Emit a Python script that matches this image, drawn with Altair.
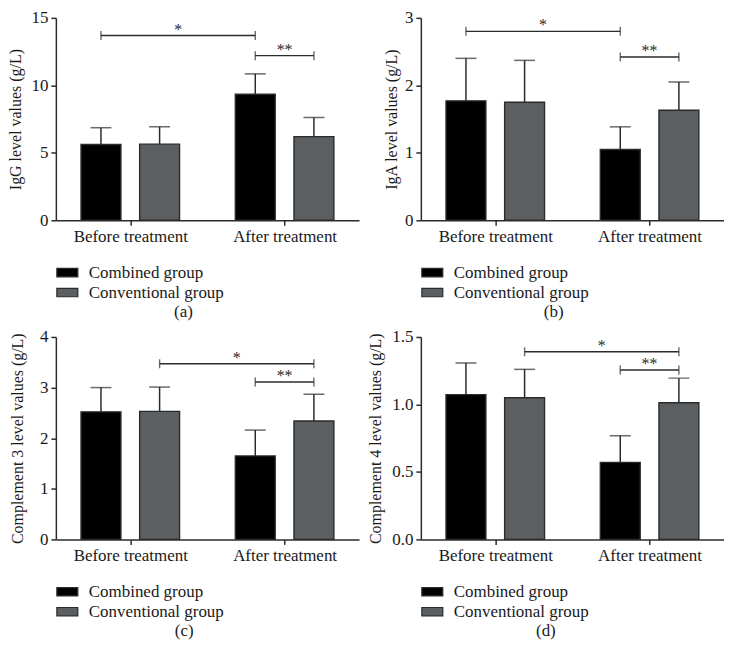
import altair as alt
import pandas as pd

# ---------------- data ----------------
categories = ["Before treatment", "After treatment"]
groups = ["Combined group", "Conventional group"]

panel_labels = ["(a)", "(b)", "(c)", "(d)"]
y_titles = [
    "IgG level values (g/L)",
    "IgA level values (g/L)",
    "Complement 3 level values (g/L)",
    "Complement 4 level values (g/L)",
]
y_max = [15, 3, 4, 1.5]
y_ticks = [[0, 5, 10, 15], [0, 1, 2, 3], [0, 1, 2, 3, 4], [0, 0.5, 1.0, 1.5]]
y_formats = ["d", "d", "d", ".1f"]

# means [Before, After] and SD (upper error) for each group
igg_combined = [5.62, 9.34]
igg_combined_sd = [1.24, 1.51]
igg_conventional = [5.64, 6.20]
igg_conventional_sd = [1.29, 1.41]

iga_combined = [1.77, 1.05]
iga_combined_sd = [0.63, 0.335]
iga_conventional = [1.75, 1.63]
iga_conventional_sd = [0.62, 0.42]

c3_combined = [2.52, 1.65]
c3_combined_sd = [0.48, 0.51]
c3_conventional = [2.53, 2.34]
c3_conventional_sd = [0.48, 0.53]

c4_combined = [1.073, 0.571]
c4_combined_sd = [0.234, 0.197]
c4_conventional = [1.05, 1.012]
c4_conventional_sd = [0.21, 0.183]

# significance brackets: (from category, from group, to category, to group, level, label)
igg_brackets = [(0, 0, 1, 0, 13.69, "*"), (1, 0, 1, 1, 12.2, "**")]
iga_brackets = [(0, 0, 1, 0, 2.80, "*"), (1, 0, 1, 1, 2.42, "**")]
c3_brackets = [(0, 1, 1, 1, 3.47, "*"), (1, 0, 1, 1, 3.11, "**")]
c4_brackets = [(0, 1, 1, 1, 1.39, "*"), (1, 0, 1, 1, 1.255, "**")]

panels_data = [
    (igg_combined, igg_combined_sd, igg_conventional, igg_conventional_sd, igg_brackets),
    (iga_combined, iga_combined_sd, iga_conventional, iga_conventional_sd, iga_brackets),
    (c3_combined, c3_combined_sd, c3_conventional, c3_conventional_sd, c3_brackets),
    (c4_combined, c4_combined_sd, c4_conventional, c4_conventional_sd, c4_brackets),
]

title_pads = [7, 5, 14, 8]

# ---------------- style ----------------
FONT = "Liberation Serif"
INK = "#1a1a1a"
LINE = "#2b2b2b"
COLORS = ["#000000", "#5c5f62"]
OFFSET = 0.19
PW, PH = 304, 203

pos_expr = "datum.cat_idx + (datum.grp_idx - 0.5) * %f" % (2 * OFFSET)
label_expr = "datum.value == 0 ? '%s' : '%s'" % (categories[0], categories[1])


def make_panel(i):
    comb, comb_sd, conv, conv_sd, brackets = panels_data[i]
    rows = []
    for ci, cat in enumerate(categories):
        for gi, (g, means, sds) in enumerate(
            [(groups[0], comb, comb_sd), (groups[1], conv, conv_sd)]
        ):
            rows.append({
                "category": cat, "cat_idx": ci, "group": g, "grp_idx": gi,
                "mean": means[ci], "sd": sds[ci],
            })
    df = pd.DataFrame(rows)

    br = pd.DataFrame(
        [{"fc": b[0], "fg": b[1], "tc": b[2], "tg": b[3], "level": b[4], "label": b[5]}
         for b in brackets]
    )

    xscale = alt.Scale(domain=[-0.45, 1.45], nice=False, zero=False)
    yscale = alt.Scale(domain=[0, y_max[i]], nice=False)
    xaxis = alt.Axis(
        values=[0, 1], labelExpr=label_expr, title=None, grid=False,
        tickSize=5, labelPadding=3, labelFontSize=17,
    )
    yaxis = alt.Axis(
        values=y_ticks[i], format=y_formats[i], title=y_titles[i], grid=False,
        tickSize=5, labelPadding=3, labelFontSize=17, titlePadding=title_pads[i],
    )

    base = alt.Chart(df).transform_calculate(pos=pos_expr).transform_calculate(
        top="datum.mean + datum.sd"
    )
    X = alt.X("pos:Q", scale=xscale, axis=xaxis)

    bars = base.mark_bar(orient="vertical", size=40, stroke=LINE, strokeWidth=1.4).encode(
        x=X,
        y=alt.Y("mean:Q", scale=yscale, axis=yaxis),
        color=alt.Color(
            "group:N",
            scale=alt.Scale(domain=groups, range=COLORS),
            legend=alt.Legend(
                orient="none", legendX=0, legendY=PH + 41, title=None,
                symbolType="M-1,-0.4H1V0.4H-1Z", symbolSize=441,
                symbolStrokeColor=LINE, symbolStrokeWidth=1.2,
                labelFont=FONT, labelFontSize=17, labelColor=INK,
                labelOffset=10, rowPadding=0, padding=0, labelLimit=300,
            ),
        ),
    )
    err = base.mark_rule(color=LINE, strokeWidth=1.5).encode(
        x=X, y=alt.Y("mean:Q", scale=yscale, axis=yaxis), y2="top:Q"
    )
    cap = base.mark_tick(orient="horizontal", size=21, thickness=1.5, color=LINE).encode(
        x=X, y=alt.Y("top:Q", scale=yscale, axis=yaxis)
    )

    bbase = alt.Chart(br).transform_calculate(
        x1="datum.fc + (datum.fg - 0.5) * %f" % (2 * OFFSET),
        x2="datum.tc + (datum.tg - 0.5) * %f" % (2 * OFFSET),
    ).transform_calculate(xm="(datum.x1 + datum.x2) / 2")
    hline = bbase.mark_rule(color=LINE, strokeWidth=1.4).encode(
        x=alt.X("x1:Q", scale=xscale, axis=xaxis), x2="x2:Q",
        y=alt.Y("level:Q", scale=yscale, axis=yaxis),
    )
    ends = bbase.transform_fold(["x1", "x2"], as_=["end", "xe"]).mark_tick(
        orient="vertical", size=9, thickness=1.4, color=LINE
    ).encode(
        x=alt.X("xe:Q", scale=xscale, axis=xaxis),
        y=alt.Y("level:Q", scale=yscale, axis=yaxis),
    )
    stars = bbase.mark_text(
        font=FONT, fontSize=16, color="#2a2a2a", baseline="alphabetic", dy=-1
    ).encode(
        x=alt.X("xm:Q", scale=xscale, axis=xaxis),
        y=alt.Y("level:Q", scale=yscale, axis=yaxis),
        text="label:N",
    )

    return alt.layer(bars, err, cap, hline, ends, stars).properties(
        width=PW, height=PH,
        title=alt.TitleParams(
            panel_labels[i], orient="bottom", anchor="middle", frame="bounds",
            font=FONT, fontSize=17, fontWeight="normal", color=INK, offset=3,
        ),
    )


panels = [make_panel(i) for i in range(4)]

chart = alt.concat(*panels, columns=2, spacing=alt.RowColnumber(row=8, column=8)).resolve_scale(
    y="independent", color="independent"
).resolve_legend(color="independent").configure_view(stroke=None).configure_axis(
    labelFont=FONT, titleFont=FONT, labelColor=INK, titleColor=INK,
    titleFontSize=16, titleFontWeight="normal", domainColor=LINE, tickColor=LINE,
    domainWidth=1.5, tickWidth=1.5,
).properties(padding=0, background="white")

chart.save("out.html", embed_options={"renderer": "svg", "actions": False})
